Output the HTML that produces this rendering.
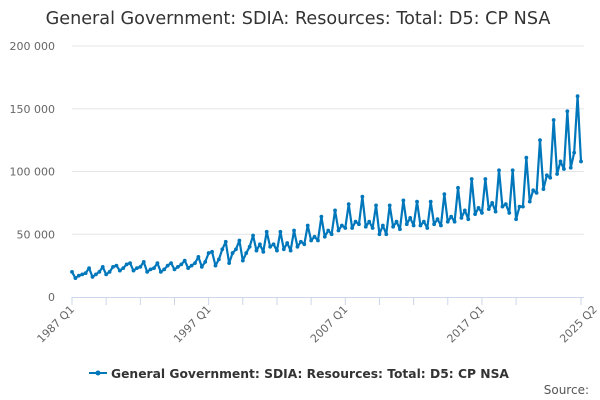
<!DOCTYPE html>
<html><head><meta charset="utf-8"><style>
body{margin:0;background:#fff;font-family:"DejaVu Sans",sans-serif;}
svg{display:block;font-family:"DejaVu Sans",sans-serif}
</style></head><body>
<svg id="chart" width="600" height="400">
<text x="298" y="24" text-anchor="middle" font-size="17.6" fill="#333">General Government: SDIA: Resources: Total: D5: CP NSA</text>
<g id="grid"></g><g id="axes"></g><g id="series"></g>
<g>
<line x1="89" y1="373" x2="107" y2="373" stroke="#0077bb" stroke-width="2"/>
<circle cx="98" cy="373" r="2.5" fill="#0077bb"/>
<text x="111" y="378" font-size="12.3" font-weight="bold" fill="#333">General Government: SDIA: Resources: Total: D5: CP NSA</text>
</g>
<text x="589" y="394" text-anchor="end" font-size="12" fill="#555">Source:</text>
</svg>
<script>
const yTicks=[0,50000,100000,150000,200000];
const yTickLabels=["0","50 000","100 000","150 000","200 000"];
const xTickLabels=["1987 Q1","1997 Q1","2007 Q1","2017 Q1","2025 Q2"];
const xTickIndex=[0,40,80,120,153];
const values=[
20,15,17,18, 19,23,16,18, 20,24,18,20, 24,25,21,23, 26,27,21,23,
24,28,20,22, 23,27,20,22, 25,27,22,24, 26,29,23,25, 27,32,24,28,
35,36,25,30, 38,44,27,35, 38,45,29,35, 40,49,37,42, 36,52,40,42,
37,52,38,43, 37,53,40,44, 42,57,45,48, 45,64,48,53, 50,69,53,57,
55,74,55,60, 58,80,56,60, 55,73,50,57, 50,73,56,60, 54,77,58,63,
57,76,57,60, 55,76,58,62, 57,82,60,64, 60,87,63,69, 62,94,66,71,
67,94,70,75, 68,101,72,74, 67,101,62,72, 72,111,76,85, 83,125,86,97,
95,141,98,108, 102,148,103,115, 160,108
].map(v=>v*1000);
const NS="http://www.w3.org/2000/svg";
const X0=72,X1=581,Y0=297,Y1=46;
const xs=i=>X0+(X1-X0)*i/(values.length-1);
const ys=v=>Y0-(Y0-Y1)*v/200000;
const grid=document.getElementById('grid'),axes=document.getElementById('axes'),ser=document.getElementById('series');
function mk(tag,attrs,parent){const e=document.createElementNS(NS,tag);for(const k in attrs)e.setAttribute(k,attrs[k]);parent.appendChild(e);return e;}
yTicks.forEach((t,i)=>{
  if(t>0){const l=mk('line',{x1:X0,x2:X1+3,y1:ys(t),y2:ys(t),stroke:'#e6e6e6'},grid);
  
  }
  const tx=mk('text',{x:55,y:ys(t)+4,'text-anchor':'end','font-size':11,fill:'#666'},axes);
  tx.textContent=yTickLabels[i];
  
  
});
const al=mk('line',{x1:X0,x2:X1+3,y1:Y0+0.5,y2:Y0+0.5,stroke:'#ccd6eb'},axes);


const tickIdx=[];
for(let i=0;i<values.length-10;i+=10)tickIdx.push(i);
tickIdx.push(values.length-1);
tickIdx.forEach(i=>{
  const tk=mk('line',{x1:xs(i),x2:xs(i),y1:Y0,y2:Y0+8,stroke:'#ccd6eb'},axes);
  
  
});
xTickLabels.forEach((lab,k)=>{
  const x=xs(xTickIndex[k]);
  const tx=mk('text',{x:x+3,y:Y0+13,'text-anchor':'end','font-size':11,fill:'#666',transform:`rotate(-45 ${x+3} ${Y0+13})`},axes);
  tx.textContent=lab;
  
  
});
const p=mk('polyline',{points:values.map((v,i)=>xs(i)+','+ys(v)).join(' '),fill:'none',stroke:'#0077bb','stroke-width':2.2,'stroke-linejoin':'round'},ser);


values.forEach((v,i)=>{
  const c=mk('circle',{cx:xs(i),cy:ys(v),r:1.9,fill:'#0077bb'},ser);
  
  
});
</script>
</body></html>
